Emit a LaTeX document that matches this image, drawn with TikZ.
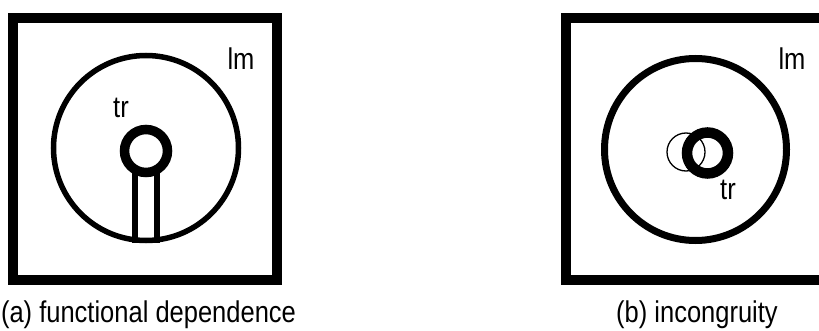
\documentclass[tikz,border=0pt]{standalone}
\usepackage{fontspec}
\setmainfont{Liberation Sans}[FakeStretch=0.85]
\usetikzlibrary{backgrounds}
\tikzset{
    frame/.style={draw,line width=10pt},
    lmring/.style={circle,draw,line width=5.5pt,inner sep=0pt,minimum size=185pt},
    trring/.style={circle,draw,line width=9.5pt,inner sep=0pt,minimum size=43pt},
    ghost/.style={circle,draw,line width=1.3pt,inner sep=0pt,minimum size=38pt},
    stem/.style={draw,line width=6pt},
    lbl/.style={inner sep=0pt,anchor=base,font=\fontsize{30}{34}\selectfont},
    subcap/.style={inner sep=0pt,anchor=base,font=\fontsize{30}{34}\selectfont},
}

\begin{document}
\begin{tikzpicture}[x=1pt,y=-1pt]
\useasboundingbox (0,0) rectangle (819,331);
\clip (0,0) rectangle (819,331);
% (a) functional dependence
\draw[frame] (13,18) rectangle (277,280);
\node[lmring] (lmA) at (146,148) {};
\node[trring,fill=white] (trA) at (146,151) {};
\node[lbl] (lmlblA) at (241,70) {lm};
\node[lbl] (trlblA) at (121,118) {tr};
\node[subcap] (capA) at (148.5,322) {(a) functional dependence};
\scoped[on background layer]{
    \draw[stem] ([xshift=-11pt]trA.center) -- ([xshift=-11pt]lmA.south);
    \draw[stem] ([xshift=11pt]trA.center) -- ([xshift=11pt]lmA.south);
}
% (b) incongruity
\draw[frame] (566,18) rectangle (830,280);
\node[lmring,line width=7pt,minimum size=182pt] (lmB) at (695.5,149.5) {};
\node[ghost] (ghostB) at (686,152) {};
\node[trring,line width=10.5pt,minimum size=41pt] (trB) at (707.5,153) {};
\node[lbl] (lmlblB) at (792,70) {lm};
\node[lbl] (trlblB) at (728,200) {tr};
\node[subcap] (capB) at (697,322) {(b) incongruity};
\end{tikzpicture}
\end{document}
